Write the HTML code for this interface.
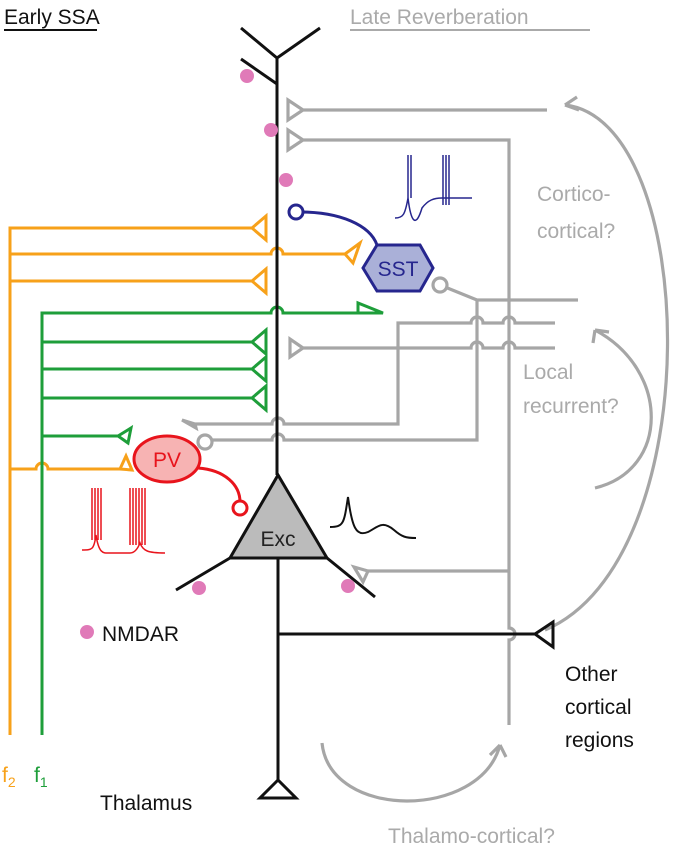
<!DOCTYPE html>
<html><head><meta charset="utf-8"><style>body{margin:0;background:#fff}svg{display:block}text{font-family:"Liberation Sans",sans-serif}</style></head><body>
<svg width="696" height="853" viewBox="0 0 696 853" xmlns="http://www.w3.org/2000/svg" fill="none" stroke-width="3">
<!-- titles -->
<text x="4" y="24" font-size="21" fill="#111" stroke="none">Early SSA</text>
<line x1="4" y1="30" x2="97" y2="30" stroke="#111" stroke-width="2"/>
<text x="350" y="24" font-size="21" fill="#aaa" stroke="none">Late Reverberation</text>
<line x1="350" y1="30" x2="590" y2="30" stroke="#aaa" stroke-width="2"/>
<!-- gray wiring -->
<g stroke="#a6a6a6" stroke-width="3.2">
<path d="M547 110H303 M303 110L288 100V120Z"/>
<path d="M303 140H509V628a6 6 0 0 1 0 12V725 M303 140L288 130V150Z"/>
<path d="M440 285L477 300H578 M477 300V440H284a6 6 0 0 0-12 0H212"/>
<circle cx="205" cy="442" r="7" fill="#fff"/>
<circle cx="440" cy="285" r="7" fill="#fff"/>
<path d="M555 323H515a6 6 0 0 0-12 0H483a6 6 0 0 0-12 0H398V424H284a6 6 0 0 0-12 0H195 M195 424L182 420L196 428Z"/>
<path d="M555 348H515a6 6 0 0 0-12 0H483a6 6 0 0 0-12 0H303 M303 348L290 339V357Z"/>
<path d="M509 571H368 M368 571L354 567L363 582Z"/>
<path d="M565 105C700 120 710 560 545 630 M565 105l12-8 M565 105l14 5"/>
<path d="M595 330C670 370 670 470 595 488 M595 330l-2 13 M595 330l14 2"/>
<path d="M322 743C330 820 480 820 500 745 M500 745l-10 10 M500 745l6 12"/>
</g>
<!-- orange -->
<g stroke="#f7a11a">
<path d="M10 735V228H252 M252 228L266 216V240Z"/>
<path d="M10 254H271a6 6 0 0 1 12 0H345 M345 254L360 243L353 263Z"/>
<path d="M10 281H252 M252 281L266 269V293Z"/>
<path d="M10 469H36a6 6 0 0 1 12 0H120 M120 469L126 456L132 470Z"/>
</g>
<!-- green -->
<g stroke="#1e9e3a">
<path d="M42 735V313H271a6 6 0 0 1 12 0H358 M358 313L383 313L358 303Z"/>
<path d="M42 342H252 M252 342L266 330V354Z"/>
<path d="M42 369H252 M252 369L266 357V381Z"/>
<path d="M42 398H252 M252 398L266 386V410Z"/>
<path d="M42 436H118 M118 436L131 428L128 443Z"/>
</g>
<!-- black neuron -->
<g stroke="#111">
<path d="M241 28L277 58L320 28 M277 58V475 M241 59L277 84"/>
<path d="M278 475L230 558H327Z" fill="#bbb"/>
<path d="M230 558L176 590 M327 558L375 597 M278 558V780"/>
<path d="M278 780L260 798H296Z" fill="#fff"/>
<path d="M278 634H535 M535 634L553 622V647Z"/>
<path d="M330 527c14 0 14-4 18-30 4 30 8 40 20 35 10-5 14-12 26-2 8 7 12 8 22 8" stroke-width="2"/>
</g>
<text x="278" y="546" font-size="21" fill="#222" stroke="none" text-anchor="middle">Exc</text>
<!-- PV -->
<path d="M198 468C225 470 240 485 240 502" stroke="#e8141c"/>
<circle cx="240" cy="508" r="7" stroke="#e8141c" fill="#fff"/>
<ellipse cx="167" cy="459" rx="33" ry="23" fill="#f7b3b3" stroke="#e8141c"/>
<text x="167" y="467" font-size="21" fill="#e8141c" stroke="none" text-anchor="middle">PV</text>
<g stroke="#e8141c" stroke-width="1.5">
<path d="M82 550c10 0 12 0 14-15 3 20 8 18 14 18h12 8c5 0 8-5 10-10 3 8 8 10 25 10"/>
<path d="M92 488V540M95 488V540M98 488V540M101 488V540 M130 488V545M133 488V545M136 488V545M139 488V545M142 488V545M145 488V545"/>
</g>
<!-- SST -->
<path d="M300 212C340 212 370 225 377 245" stroke="#26268e"/>
<circle cx="296" cy="212" r="7" stroke="#26268e" fill="#fff"/>
<path d="M363 268L377 245H420L433 268L420 291H377Z" fill="#aab0d8" stroke="#26268e"/>
<text x="398" y="276" font-size="21" fill="#26268e" stroke="none" text-anchor="middle">SST</text>
<g stroke="#26268e" stroke-width="1.5">
<path d="M395 218c8 0 10-3 13-20 3 25 8 30 14 10 6-8 12-10 20-10h30"/>
<path d="M408 155V198M411 155V198M443 155V205M446 155V205M449 155V205"/>
</g>
<!-- NMDAR dots -->
<g fill="#e07ab8" stroke="none">
<circle cx="247" cy="76" r="7"/><circle cx="271" cy="130" r="7"/><circle cx="286" cy="180" r="7"/>
<circle cx="199" cy="588" r="7"/><circle cx="348" cy="586" r="7"/><circle cx="87" cy="632" r="7"/>
</g>
<g stroke="none" font-size="21">
<text x="102" y="641" fill="#111">NMDAR</text>
<text x="537" y="201" fill="#aaa">Cortico-</text>
<text x="537" y="238" fill="#aaa">cortical?</text>
<text x="523" y="379" fill="#aaa">Local</text>
<text x="523" y="413" fill="#aaa">recurrent?</text>
<text x="565" y="681" fill="#111">Other</text>
<text x="565" y="714" fill="#111">cortical</text>
<text x="565" y="747" fill="#111">regions</text>
<text x="2" y="782" fill="#f7a11a">f<tspan font-size="14" dy="5">2</tspan></text>
<text x="34" y="782" fill="#1e9e3a">f<tspan font-size="14" dy="5">1</tspan></text>
<text x="100" y="810" fill="#111">Thalamus</text>
<text x="388" y="843" fill="#aaa">Thalamo-cortical?</text>
</g>
</svg>
</body></html>
